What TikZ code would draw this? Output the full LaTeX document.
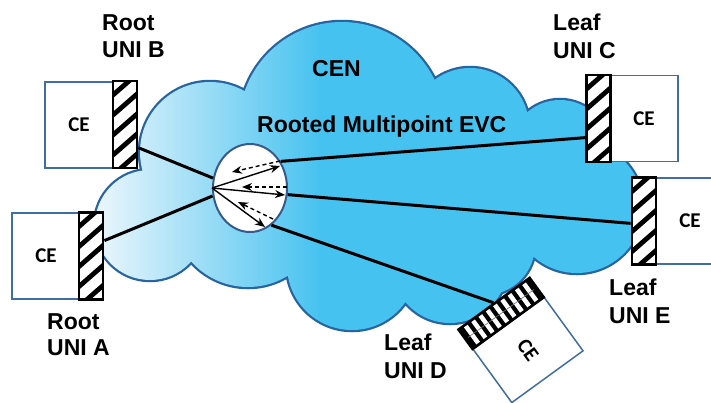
\documentclass[tikz,border=0pt]{standalone}
\usepackage{fontspec}
\setmainfont{Liberation Sans}
\newfontfamily\cefont{Carlito}
\usetikzlibrary{shapes.geometric,arrows.meta,calc}
\definecolor{cloudblue}{RGB}{70,194,240}
\definecolor{cloudlight}{RGB}{236,246,252}
\definecolor{cloudedge}{RGB}{40,100,160}
\definecolor{boxblue}{RGB}{65,110,160}
\definecolor{ellblue}{RGB}{55,90,140}
\def\cloudcircles{(342,125) circle[radius=103] (210,152) circle[radius=70] (150,225) circle[radius=55] (248,211) circle[radius=76] (352,265) circle[radius=65] (450,265) circle[radius=58] (485,245) circle[radius=50] (577,207) circle[radius=66] (560,150) circle[radius=50] (470,127) circle[radius=59]}
\def\cloudfiller{(150,170) -- (200,140) -- (300,100) -- (400,90) -- (500,110) -- (560,150) -- (600,200) -- (560,240) -- (500,270) -- (450,285) -- (350,280) -- (250,250) -- (160,240) -- cycle}
\begin{document}
\begin{tikzpicture}[x=1pt,y=-1pt,
  lbl/.style={font=\fontsize{23}{27}\selectfont\bfseries, anchor=base west, inner sep=0},
  cebox/.style={draw=boxblue, line width=1.5pt, fill=white, minimum width=68pt, minimum height=86pt, inner sep=0, font=\cefont\fontsize{21}{24}\selectfont\bfseries},
  hatchbar/.style={draw=black, line width=2.8pt, fill=white, minimum width=24pt, minimum height=87pt, inner sep=0,
    path picture={\foreach \k in {-5,...,5}{\draw[line width=4.8pt] ($(path picture bounding box.center)+(-16pt,\k*20pt-14pt)$) -- ++(32pt,28pt);}}},
  ladderbar/.style={draw=black, line width=2.5pt, fill=black, minimum width=24pt, minimum height=88pt, inner sep=0},
  link/.style={line width=3pt, black},
  flow/.style={line width=1.4pt, -{Stealth[length=10pt,width=8pt]}},
  backflow/.style={flow, dash pattern=on 4pt off 3pt}
]
\useasboundingbox (0,0) rectangle (711,402);
\clip (0,0) rectangle (711,402);
\fill[white] (0,0) rectangle (711,402);

% cloud
\draw[cloudedge, line width=4.5pt] \cloudcircles;
\begin{scope}
  \clip \cloudcircles;
  \fill[cloudblue] (320,0) rectangle (711,402);
  \shade[left color=cloudlight, right color=cloudblue] (95,0) rectangle (321,402);
\end{scope}
\begin{scope}
  \clip \cloudfiller;
  \fill[cloudblue] (320,0) rectangle (711,402);
  \shade[left color=cloudlight, right color=cloudblue] (95,0) rectangle (321,402);
\end{scope}

% texts in cloud
\node[lbl] (cen) at (312,76) {CEN};
\node[lbl] (evcname) at (257,132) {Rooted Multipoint EVC};

% EVC ellipse
\node[ellipse, draw=ellblue, line width=2pt, fill=white, minimum width=74pt, minimum height=88pt, inner sep=0] (evc) at (250,188) {};

% CE boxes and UNI bars
\node[cebox] (ceB) at (79,125) {CE};
\node[hatchbar] (barB) at (125,124.5) {};
\node[cebox] (ceA) at (46,256) {CE};
\node[hatchbar] (barA) at (91,256) {};
\node[cebox] (ceC) at (644,118.5) {CE};
\node[hatchbar] (barC) at (598.5,118.5) {};
\node[cebox] (ceE) at (690,221) {CE};
\node[hatchbar] (barE) at (644,221) {};
\node[cebox, minimum width=66pt, minimum height=88pt, rotate=-54] (ceD) at (528,350) {CE};
\node[ladderbar, rotate=-54] (barD) at (501.1,313.4) {};
\begin{scope}[shift={(barD.center)}, rotate=-54]
  \foreach \k in {-36,-27,...,36}{\draw[white, line width=4.5pt] (-10.5pt,\k pt) -- (10.5pt,\k pt);}
  \draw[black!55, line width=0.6pt] (0pt,-41pt) -- (0pt,41pt);
\end{scope}

% connectors
\draw[link] (barB.-60) -- (evc.165);
\draw[link] (barA.49) -- (evc.192);
\draw[link] (evc.41) -- (barC.235);
\draw[link] (evc.-10) -- (barE.190);
\draw[link] (evc.-60) -- (barD.west);

% arrows inside the ellipse
\coordinate (s1) at (280,166);
\coordinate (s2) at (285,195);
\coordinate (s3) at (265,227);
\coordinate (d1a) at (280,161);
\coordinate (d1b) at (232,172);
\coordinate (d2a) at (287,187);
\coordinate (d2b) at (242,187);
\coordinate (d3a) at (273,219);
\coordinate (d3b) at (238,202);
\draw[flow] (evc.west) -- (s1);
\draw[flow] (evc.west) -- (s2);
\draw[flow] (evc.west) -- (s3);
\draw[backflow] (d1a) -- (d1b);
\draw[backflow] (d2a) -- (d2b);
\draw[backflow] (d3a) -- (d3b);

% labels
\node[lbl] (rootB1) at (102,30) {Root};
\node[lbl] (rootB2) at (102,57) {UNI B};
\node[lbl] (rootA1) at (47,329) {Root};
\node[lbl] (rootA2) at (47,355) {UNI A};
\node[lbl] (leafC1) at (553,30) {Leaf};
\node[lbl] (leafC2) at (553,58) {UNI C};
\node[lbl] (leafE1) at (609,295) {Leaf};
\node[lbl] (leafE2) at (609,323) {UNI E};
\node[lbl] (leafD1) at (384,350) {Leaf};
\node[lbl] (leafD2) at (384,378) {UNI D};
\end{tikzpicture}
\end{document}
